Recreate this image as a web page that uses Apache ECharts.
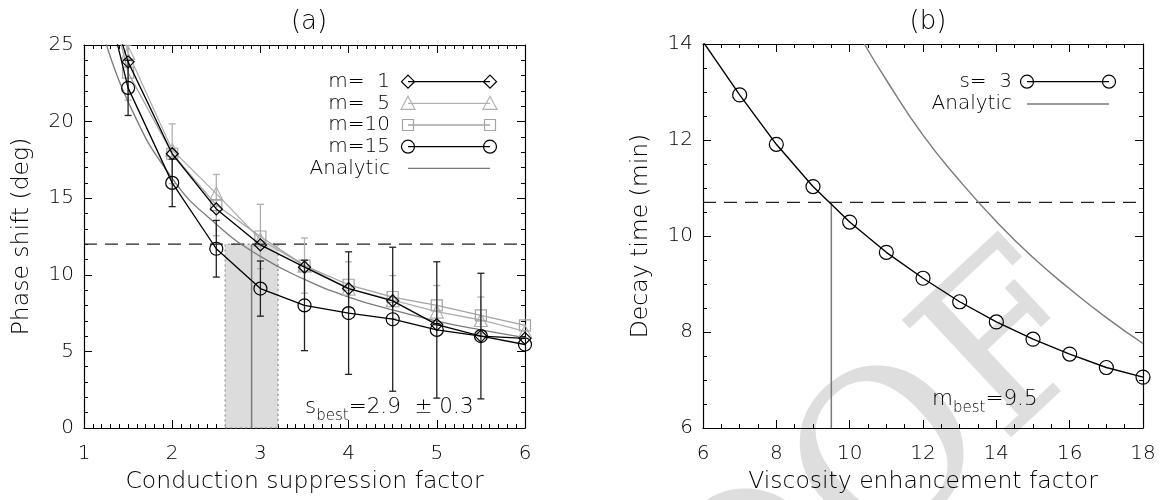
<!DOCTYPE html>
<html><head><meta charset="utf-8">
<script src="https://cdn.jsdelivr.net/npm/echarts/dist/echarts.min.js"></script>
<style>html,body{margin:0;padding:0;background:#fff}#c{width:1162px;height:500px}</style>
</head><body><div id="c"></div>
<script>
// ---------- Panel (a): phase shift vs conduction suppression factor ----------
const sValues = [1, 1.5, 2, 2.5, 3, 3.5, 4, 4.5, 5, 5.5, 6];
const m1Phase  = [33, 23.9, 17.9, 14.3, 11.95, 10.5, 9.1, 8.3, 6.75, 6.0, 5.85];
const m5Phase  = [37, 24.5, 18.15, 15.3, 12.3, 10.6, 9.1, 8.35, 7.6, 7.05, 6.3];
const m10Phase = [35, 23.2, 17.9, 14.55, 12.5, 10.6, 9.35, 8.55, 8.0, 7.35, 6.7];
const m15Phase = [34, 22.2, 16.0, 11.7, 9.1, 8.0, 7.5, 7.1, 6.4, 6.0, 5.45];
const m15Err   = [null, 1.8, 1.55, 1.85, 1.8, 2.95, 4.0, 4.7, 4.45, 4.1, null];
const m10Err   = [null, 1.8, 1.95, 2.0, 2.1, 1.8, 1.5, 1.4, 1.3, 1.2, null];
const analyticS     = [1.2, 1.5, 2, 2.5, 3, 3.5, 4, 4.5, 5, 5.5, 6];
const analyticPhase = [26.1, 21.3, 16.3, 13.3, 11.2, 9.7, 8.55, 7.7, 6.98, 6.4, 5.9];
const observedPhase = 12;
const sBest = 2.9, sBestErr = 0.3;
const legendA = ['m=  1', 'm=  5', 'm=10', 'm=15', 'Analytic'];

// ---------- Panel (b): decay time vs viscosity enhancement factor ----------
const mValues = [6, 7, 8, 9, 10, 11, 12, 13, 14, 15, 16, 17, 18];
const s3Decay = [14.05, 12.94, 11.91, 11.03, 10.29, 9.66, 9.12, 8.63, 8.21, 7.85, 7.54, 7.26, 7.06];
const analyticM     = [10.4, 11, 12, 13, 14, 15, 16, 17, 18];
const analyticDecay = [14.0, 13.25, 12.1, 11.15, 10.3, 9.55, 8.9, 8.3, 7.76];
const observedDecay = 10.7;
const mBest = 9.5;
const legendB = ['s=  3', 'Analytic'];
const watermark = 'PROOF';

const FONT = 'DejaVu Sans';
const FW = 200;
const BLACK = '#000';
const LGRAY = '#b0b0b0';
const MGRAY = '#a4a4a4';
const AGRAY = '#7a7a7a';

function xAx(grid, pos, min, max, interval, minor, showLabel, name) {
  return {
    type: 'value', gridIndex: grid, position: pos, min, max, interval,
    axisLine: {show: true, onZero: false, lineStyle: {color: BLACK, width: 1.2}},
    axisTick: {show: true, inside: true, length: 8, lineStyle: {color: BLACK, width: 1}},
    minorTick: {show: true, splitNumber: minor, length: 4, lineStyle: {color: BLACK, width: 1}},
    splitLine: {show: false}, minorSplitLine: {show: false},
    axisLabel: {show: showLabel, color: BLACK, fontSize: 20, fontFamily: FONT, fontWeight: FW, margin: 16,
      showMinLabel: true, showMaxLabel: true},
    name: name || '', nameLocation: 'middle', nameGap: 42,
    nameTextStyle: {color: BLACK, fontSize: 23.5, fontFamily: FONT, fontWeight: FW}
  };
}
function yAx(grid, pos, min, max, interval, minor, showLabel, name) {
  const a = xAx(grid, pos, min, max, interval, minor, showLabel, name);
  a.axisLabel.margin = 10;
  a.nameGap = 50;
  return a;
}

function lineSeries(xi, yi, xs, ys, color, symbol, size, width, smooth, z) {
  return {
    type: 'line', xAxisIndex: xi, yAxisIndex: yi,
    data: xs.map((x, i) => [x, ys[i]]),
    symbol: symbol, symbolSize: size, showSymbol: symbol !== 'none', showAllSymbol: true,
    smooth: smooth || false, clip: true, silent: true, z: z || 3,
    lineStyle: {color: color, width: width},
    itemStyle: {color: 'rgba(255,255,255,0)', borderColor: color, borderWidth: 1.2},
    emphasis: {disabled: true}
  };
}

function errSeries(xi, yi, xs, ys, errs, color, z) {
  const data = [];
  xs.forEach((x, i) => { if (errs[i] != null) data.push([x, ys[i] - errs[i], ys[i] + errs[i]]); });
  return {
    type: 'custom', xAxisIndex: xi, yAxisIndex: yi, data, clip: true, silent: true, z: z,
    encode: {x: 0, y: [1, 2]},
    renderItem(params, api) {
      const x = api.value(0);
      const lo = api.coord([x, api.value(1)]);
      const hi = api.coord([x, api.value(2)]);
      const w = 3.5;
      const st = {stroke: color, lineWidth: 1.3};
      return {type: 'group', children: [
        {type: 'line', shape: {x1: lo[0], y1: lo[1], x2: hi[0], y2: hi[1]}, style: st},
        {type: 'line', shape: {x1: lo[0] - w, y1: lo[1], x2: lo[0] + w, y2: lo[1]}, style: st},
        {type: 'line', shape: {x1: hi[0] - w, y1: hi[1], x2: hi[0] + w, y2: hi[1]}, style: st}
      ]};
    }
  };
}

function symbolShape(kind, cx, cy, color) {
  const st = {fill: 'none', stroke: color, lineWidth: 1.2};
  if (kind === 'circle') return {type: 'circle', shape: {cx, cy, r: 6.5}, style: st, z: 10};
  if (kind === 'rect') return {type: 'rect', shape: {x: cx - 5.5, y: cy - 5.5, width: 11, height: 11}, style: st, z: 10};
  if (kind === 'triangle') return {type: 'polygon', shape: {points: [[cx, cy - 7], [cx + 7, cy + 6], [cx - 7, cy + 6]]}, style: st, z: 10};
  if (kind === 'diamond') return {type: 'polygon', shape: {points: [[cx, cy - 6.5], [cx + 6.5, cy], [cx, cy + 6.5], [cx - 6.5, cy]]}, style: st, z: 10};
  return null;
}
function legendRow(label, textRight, x1, x2, y, color, kind) {
  const els = [
    {type: 'text', x: textRight, y: y, z: 10, style: {text: label, fill: BLACK, font: FW + ' 20px "' + FONT + '"', align: 'right', verticalAlign: 'middle'}},
    {type: 'line', shape: {x1: x1, y1: y, x2: x2, y2: y}, style: {stroke: color, lineWidth: 1.3}, z: 10}
  ];
  if (kind) { els.push(symbolShape(kind, x1, y, color)); els.push(symbolShape(kind, x2, y, color)); }
  return els;
}

const graphics = [];
// Legend (a)
const kindsA = ['diamond', 'triangle', 'rect', 'circle', null];
const colorsA = [BLACK, LGRAY, MGRAY, BLACK, AGRAY];
const rowsA = [81.7, 103.3, 125, 146.7, 168.3];
legendA.forEach((t, i) => graphics.push(...legendRow(t, 390, 408, 490, rowsA[i], colorsA[i], kindsA[i])));
// Legend (b)
graphics.push(...legendRow(legendB[0], 1012, 1027, 1109, 81.7, BLACK, 'circle'));
graphics.push(...legendRow(legendB[1], 1012, 1027, 1109, 104, AGRAY, null));
// Annotations
const richSub = {
  a: {fontSize: 21.5, fontFamily: FONT, fontWeight: FW, fill: BLACK, verticalAlign: 'bottom', lineHeight: 24},
  b: {fontSize: 15, fontFamily: FONT, fontWeight: FW, fill: BLACK, verticalAlign: 'bottom', lineHeight: 14, padding: [0, 0, -6, 0]}
};
graphics.push({type: 'text', x: 305, y: 406, z: 10, style: {
  text: '{a|s}{b|best}{a|=' + sBest + '  \u00b1 ' + sBestErr + '}', verticalAlign: 'middle', rich: richSub}});
graphics.push({type: 'text', x: 932, y: 398, z: 10, style: {
  text: '{a|m}{b|best}{a|=' + mBest + '}', verticalAlign: 'middle', rich: richSub}});
// Watermark
graphics.push({type: 'text', x: 1150, y: 380, rotation: 0.75, z: 0, silent: true, style: {
  text: watermark, fill: '#dedede', font: '220px "DejaVu Serif"', align: 'right', verticalAlign: 'bottom'}});

const option = {
  animation: false,
  backgroundColor: '#fff',
  title: [
    {text: '(a)', left: 304, top: 4, textAlign: 'center', textStyle: {fontSize: 26, fontFamily: FONT, fontWeight: FW, color: BLACK}},
    {text: '(b)', left: 923, top: 4, textAlign: 'center', textStyle: {fontSize: 26, fontFamily: FONT, fontWeight: FW, color: BLACK}}
  ],
  grid: [
    {left: 84, top: 45, width: 441, height: 383, outerBoundsMode: 'none', containLabel: false},
    {left: 703, top: 44, width: 440, height: 384, outerBoundsMode: 'none', containLabel: false}
  ],
  xAxis: [
    xAx(0, 'bottom', 1, 6, 1, 10, true, 'Conduction suppression factor'),
    xAx(0, 'top', 1, 6, 1, 10, false),
    xAx(1, 'bottom', 6, 18, 2, 4, true, 'Viscosity enhancement factor'),
    xAx(1, 'top', 6, 18, 2, 4, false)
  ],
  yAxis: [
    yAx(0, 'left', 0, 25, 5, 5, true, 'Phase shift (deg)'),
    yAx(0, 'right', 0, 25, 5, 5, false),
    yAx(1, 'left', 6, 14, 2, 4, true, 'Decay time (min)'),
    yAx(1, 'right', 6, 14, 2, 4, false)
  ],
  graphic: graphics,
  series: [
    // shaded best-fit range (a)
    {type: 'line', xAxisIndex: 0, yAxisIndex: 0, data: [], silent: true, z: 1,
     markArea: {silent: true, itemStyle: {color: '#dcdcdc', borderColor: '#7a7a7a', borderWidth: 1, borderType: [2, 3]},
       data: [[{coord: [sBest - sBestErr, 0]}, {coord: [sBest + sBestErr, observedPhase]}]]}},
    {type: 'line', xAxisIndex: 0, yAxisIndex: 0, data: [[sBest, 0], [sBest, observedPhase]], symbol: 'none', silent: true, z: 2,
     lineStyle: {color: AGRAY, width: 1.5}},
    {type: 'line', xAxisIndex: 0, yAxisIndex: 0, data: [[1, observedPhase], [6, observedPhase]], symbol: 'none', silent: true, z: 2,
     lineStyle: {color: '#222', width: 1.3, type: [13, 8]}},
    errSeries(0, 0, sValues, m10Phase, m10Err, LGRAY, 3),
    errSeries(0, 0, sValues, m15Phase, m15Err, '#222', 4),
    lineSeries(0, 0, analyticS, analyticPhase, AGRAY, 'none', 0, 1.3, true, 3),
    lineSeries(0, 0, sValues, m5Phase, LGRAY, 'triangle', 13, 1.3, false, 3),
    lineSeries(0, 0, sValues, m10Phase, MGRAY, 'rect', 11, 1.3, false, 3),
    lineSeries(0, 0, sValues, m1Phase, BLACK, 'diamond', 12, 1.3, false, 4),
    lineSeries(0, 0, sValues, m15Phase, BLACK, 'circle', 13, 1.3, false, 4),
    // panel (b)
    {type: 'line', xAxisIndex: 2, yAxisIndex: 2, data: [[6, observedDecay], [18, observedDecay]], symbol: 'none', silent: true, z: 2,
     lineStyle: {color: '#222', width: 1.3, type: [13, 8]}},
    {type: 'line', xAxisIndex: 2, yAxisIndex: 2, data: [[mBest, 6], [mBest, observedDecay]], symbol: 'none', silent: true, z: 2,
     lineStyle: {color: AGRAY, width: 1.5}},
    lineSeries(2, 2, analyticM, analyticDecay, AGRAY, 'none', 0, 1.4, true, 3),
    lineSeries(2, 2, mValues, s3Decay, BLACK, 'circle', 14, 1.4, false, 4)
  ]
};
const chart = echarts.init(document.getElementById('c'), null, {renderer: 'canvas'});
chart.setOption(option);
</script></body></html>
